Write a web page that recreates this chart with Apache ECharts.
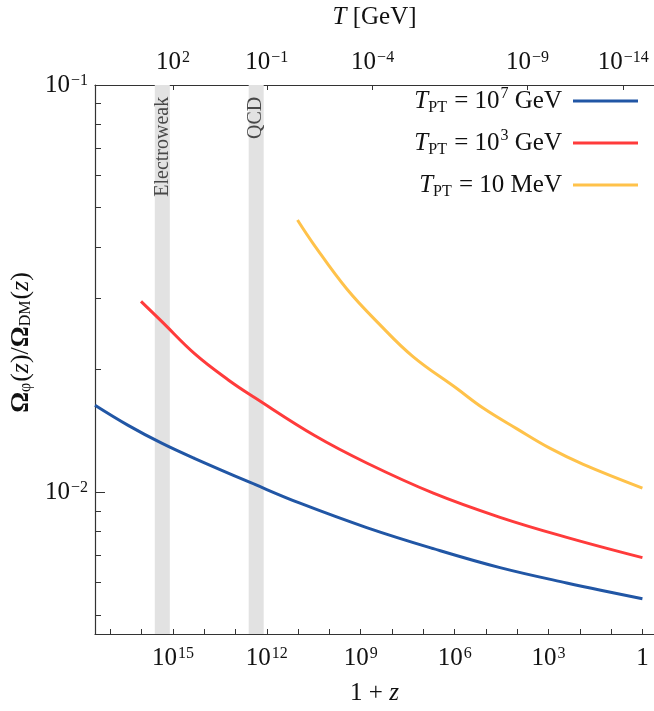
<!DOCTYPE html>
<html>
<head>
<meta charset="utf-8">
<script src="https://cdn.jsdelivr.net/npm/echarts@6/dist/echarts.min.js"></script>
<style>
  html, body { margin: 0; padding: 0; background: #fff; }
  #chart { width: 654px; height: 711px; }
</style>
</head>
<body>
<div id="chart"></div>
<script>
// x is log10(1 + z), y is Omega_phi / Omega_DM
const blueX = [17.49, 16.43, 15.36, 14.3, 12.38, 10.94, 8.81, 6.68, 4.55, 2.42, 0];
const blueY = [0.01636, 0.0146, 0.0132, 0.0121, 0.01045, 0.0094, 0.00819, 0.00727, 0.00653, 0.00599, 0.00548];

const redX = [16.02, 15.36, 14.3, 13.23, 12.38, 10.46, 8.81, 6.68, 4.55, 2.42, 0];
const redY = [0.02943, 0.02627, 0.02186, 0.01887, 0.01706, 0.01376, 0.0118, 0.00995, 0.00868, 0.00775, 0.00691];

const yellowX = [11.02, 10.52, 9.45, 8.39, 7.32, 5.94, 5.09, 4.02, 2.96, 1.89, 0];
const yellowY = [0.0466, 0.0408, 0.0316, 0.0258, 0.0215, 0.018, 0.0161, 0.01433, 0.01283, 0.01171, 0.01024];

const seriesNames = ['T7', 'T3', 'T10MeV'];
const legendLabels = [
  '{it|T}{sub|PT}{t| = 10}{sup|7}{t| GeV}',
  '{it|T}{sub|PT}{t| = 10}{sup|3}{t| GeV}',
  '{it|T}{sub|PT}{t| = 10 MeV}'
];
const colors = ['#2156a5', '#ff3b3b', '#ffc24a'];

// phase transition bands, in log10(1 + z)
const bandNames = ['Electroweak', 'QCD'];
const bandFrom = [15.58, 12.58];
const bandTo = [15.1, 12.1];
const bandMid = [15.34, 12.34];

// tick positions
const bottomTicks = [0, 1, 2, 3, 4, 5, 6, 7, 8, 9, 10, 11, 12, 13, 14, 15, 16, 17];
const bottomLabels = [0, 3, 6, 9, 12, 15];
const topTickPos = [15.0, 12.0, 8.62, 3.67, 0.61];
const topTickExp = ['2', '−1', '−4', '−9', '−14'];
const yMajor = [0.01, 0.1];
const yMinor = [0.005, 0.006, 0.007, 0.008, 0.009, 0.02, 0.03, 0.04, 0.05, 0.06, 0.07, 0.08, 0.09];

const xMin = -0.37, xMax = 17.49;
const yMin = -2.348, yMax = -1;

const font = 'Liberation Serif';
const rich = {
  t: { fontFamily: font, fontSize: 25, color: '#111' },
  it: { fontFamily: font, fontSize: 25, fontStyle: 'italic', color: '#111' },
  b: { fontFamily: font, fontSize: 26, fontWeight: 'bold', color: '#111' },
  yt: { fontFamily: font, fontSize: 26, color: '#111' },
  yit: { fontFamily: font, fontSize: 26, fontStyle: 'italic', color: '#111' },
  sup: { fontFamily: font, fontSize: 16, color: '#111', verticalAlign: 'top', padding: [0, 0, 8, 1] },
  sub: { fontFamily: font, fontSize: 16, color: '#111', verticalAlign: 'bottom', padding: [6, 1, 0, 0] }
};

const pairs = (xs, ys) => xs.map((x, i) => [x, Math.log10(ys[i])]);

const chart = echarts.init(document.getElementById('chart'));

const lineSeries = [[blueX, blueY], [redX, redY], [yellowX, yellowY]].map((d, i) => ({
  name: seriesNames[i],
  type: 'line',
  xAxisIndex: 0,
  yAxisIndex: 0,
  data: pairs(d[0], d[1]),
  showSymbol: false,
  smooth: 0.4,
  z: 5,
  lineStyle: { color: colors[i], width: 3 },
  itemStyle: { color: colors[i] }
}));

const axisLine = { show: true, onZero: false, lineStyle: { color: '#333', width: 1.2 } };

chart.setOption({
  animation: false,
  backgroundColor: '#fff',
  grid: { left: 95, right: 0, top: 75, bottom: 73.5 },
  legend: {
    data: seriesNames,
    orient: 'vertical',
    align: 'right',
    right: 11,
    top: 81,
    itemWidth: 65,
    itemHeight: 3,
    itemGap: 12,
    icon: 'rect',
    formatter: (name) => legendLabels[seriesNames.indexOf(name)],
    textStyle: { fontFamily: font, fontSize: 25, lineHeight: 30, rich: rich, padding: [0, 6, 0, 0] }
  },
  xAxis: [
    {
      type: 'value',
      position: 'bottom',
      inverse: true,
      min: xMin,
      max: xMax,
      name: '{t|1 + }{it|z}',
      nameLocation: 'middle',
      nameGap: 47,
      nameTextStyle: { rich: rich },
      axisLine: axisLine,
      axisTick: { inside: true, length: 5, customValues: bottomTicks, lineStyle: { color: '#333' } },
      axisLabel: {
        customValues: bottomLabels,
        margin: 12,
        formatter: (v) => (v === 0 ? '{t|1}' : '{t|10}{sup|' + v + '}'),
        rich: rich
      },
      splitLine: { show: false }
    },
    {
      type: 'value',
      position: 'top',
      inverse: true,
      min: xMin,
      max: xMax,
      name: '{it|T}{t| [GeV]}',
      nameLocation: 'middle',
      nameGap: 55,
      nameTextStyle: { rich: rich },
      axisLine: axisLine,
      axisTick: { inside: true, length: 5, customValues: topTickPos, lineStyle: { color: '#333' } },
      axisLabel: {
        customValues: topTickPos,
        margin: 10,
        formatter: (v) => {
          let k = 0;
          topTickPos.forEach((p, i) => { if (Math.abs(p - v) < Math.abs(topTickPos[k] - v)) k = i; });
          return '{t|10}{sup|' + topTickExp[k] + '}';
        },
        rich: rich
      },
      splitLine: { show: false }
    }
  ],
  yAxis: [
    {
      type: 'value',
      position: 'left',
      min: yMin,
      max: yMax,
      name: '{b|Ω}{sub|φ}{yt|(}{yit|z}{yt|)/}{b|Ω}{sub|DM}{yt|(}{yit|z}{yt|)}',
      nameLocation: 'middle',
      nameRotate: 90,
      nameGap: 50,
      nameTextStyle: { rich: rich, padding: [0, 0, 0, 34] },
      axisLine: axisLine,
      axisTick: { inside: true, length: 10, customValues: yMajor.map(Math.log10), lineStyle: { color: '#333' } },
      axisLabel: {
        customValues: yMajor.map(Math.log10),
        margin: 7,
        formatter: (v) => '{t|10}{sup|−' + Math.round(-v) + '}',
        rich: rich
      },
      splitLine: { show: false }
    },
    {
      type: 'value',
      position: 'left',
      offset: 0,
      min: yMin,
      max: yMax,
      axisLine: { show: false, onZero: false },
      axisTick: { inside: true, length: 6, customValues: yMinor.map(Math.log10), lineStyle: { color: '#333' } },
      axisLabel: { show: false },
      splitLine: { show: false }
    }
  ],
  series: [
    {
      name: 'bands',
      type: 'line',
      data: [],
      z: 1,
      silent: true,
      markArea: {
        silent: true,
        itemStyle: { color: '#e2e2e2' },
        label: { show: false },
        data: bandFrom.map((f, i) => [{ xAxis: f }, { xAxis: bandTo[i] }])
      }
    },
    {
      name: 'bandLabels',
      type: 'scatter',
      symbolSize: 0,
      silent: true,
      z: 2,
      data: bandMid.map((x, i) => ({ value: [x, -1.029], name: bandNames[i] })),
      label: {
        show: true,
        position: 'inside',
        rotate: 90,
        align: 'right',
        verticalAlign: 'middle',
        formatter: (p) => p.name,
        fontFamily: font,
        fontSize: 20,
        color: '#222'
      }
    },
    ...lineSeries
  ]
});
</script>
</body>
</html>
